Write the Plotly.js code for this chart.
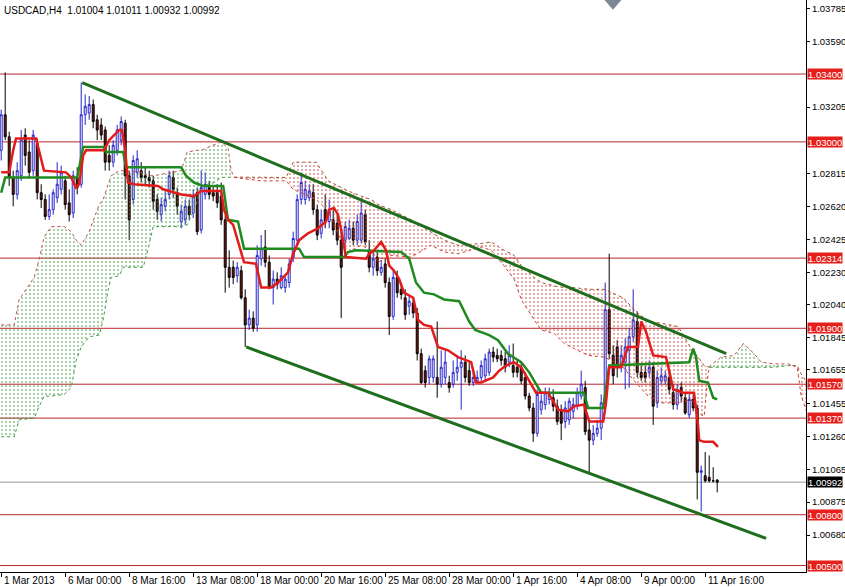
<!DOCTYPE html>
<html><head><meta charset="utf-8">
<script src="https://cdn.plot.ly/plotly-3.0.1.min.js"></script>
<style>html,body{margin:0;padding:0;background:#fff}#chart{width:845px;height:587px}</style>
</head><body><div id="chart"></div>
<script>
// ---------- data ----------
const symbolTitle = "USDCAD,H4\u00a0\u00a01.01004 1.01011 1.00932 1.00992";
const tickBars = [0,16,32,48,64,80,96,112,128,144,160,176];
const tickLabels = ["1 Mar 2013","6 Mar 00:00","8 Mar 16:00","13 Mar 08:00","18 Mar 00:00","20 Mar 16:00","25 Mar 08:00","28 Mar 00:00","1 Apr 16:00","4 Apr 08:00","9 Apr 00:00","11 Apr 16:00"];
const priceTicks = [1.03785,1.03590,1.03205,1.02815,1.02620,1.02425,1.02230,1.02040,1.01845,1.01655,1.01455,1.01260,1.01065,1.00875,1.00680];
const levels = [1.03400,1.03000,1.02314,1.01900,1.01570,1.01370,1.00800,1.00500];
const lastPrice = 1.00992;

const open = [
1.0295,1.0316,1.0303,1.0279,1.0269,1.0280,1.0304,1.0294,1.0283,1.0299,
1.0270,1.0266,1.0256,1.0260,1.0267,1.0272,1.0277,1.0264,1.0258,1.0279,
1.0275,1.0316,1.0317,1.0322,1.0313,1.0310,1.0307,1.0292,1.0288,1.0295,
1.0301,1.0311,1.0280,1.0266,1.0282,1.0283,1.0280,1.0279,1.0277,1.0266,
1.0257,1.0262,1.0269,1.0279,1.0270,1.0253,1.0254,1.0262,1.0258,1.0270,
1.0248,1.0269,1.0273,1.0270,1.0270,1.0268,1.0254,1.0226,1.0226,1.0221,
1.0224,1.0208,1.0192,1.0196,1.0192,1.0231,1.0238,1.0229,1.0214,1.0219,
1.0214,1.0214,1.0217,1.0232,1.0242,1.0266,1.0266,1.0267,1.0270,1.0260,
1.0246,1.0260,1.0253,1.0254,1.0252,1.0242,1.0242,1.0243,1.0249,1.0242,
1.0242,1.0257,1.0236,1.0226,1.0232,1.0223,1.0228,1.0217,1.0197,1.0220,
1.0213,1.0208,1.0203,1.0205,1.0199,1.0175,1.0165,1.0161,1.0161,1.0161,
1.0157,1.0161,1.0158,1.0157,1.0164,1.0167,1.0170,1.0165,1.0158,1.0159,
1.0161,1.0162,1.0164,1.0176,1.0174,1.0174,1.0172,1.0170,1.0168,1.0167,
1.0167,1.0161,1.0150,1.0143,1.0128,1.0142,1.0145,1.0148,1.0149,1.0144,
1.0141,1.0135,1.0136,1.0141,1.0144,1.0150,1.0155,1.0130,1.0124,1.0128,
1.0131,1.0146,1.0201,1.0174,1.0179,1.0167,1.0170,1.0177,1.0185,1.0194,
1.0164,1.0164,1.0164,1.0167,1.0146,1.0159,1.0159,1.0161,1.0152,1.0145,
1.0155,1.0149,1.0139,1.0148,1.0143,1.0105,1.0103,1.0102,1.0100,1.01004];
const high = [
1.0319,1.0341,1.0306,1.0283,1.0288,1.0307,1.0308,1.0301,1.0307,1.0302,
1.0275,1.0269,1.0269,1.0272,1.0288,1.0286,1.0280,1.0272,1.0283,1.0285,
1.0335,1.0328,1.0327,1.0325,1.0316,1.0314,1.0309,1.0298,1.0301,1.0310,
1.0315,1.0313,1.0283,1.0292,1.0295,1.0288,1.0285,1.0283,1.0280,1.0269,
1.0267,1.0272,1.0283,1.0283,1.0273,1.0263,1.0266,1.0266,1.0272,1.0273,
1.0283,1.0282,1.0277,1.0274,1.0275,1.0276,1.0257,1.0236,1.0230,1.0229,
1.0227,1.0213,1.0201,1.0200,1.0239,1.0245,1.0248,1.0233,1.0224,1.0223,
1.0226,1.0221,1.0231,1.0247,1.0269,1.0282,1.0277,1.0275,1.0275,1.0263,
1.0260,1.0269,1.0266,1.0260,1.0257,1.0247,1.0253,1.0254,1.0253,1.0257,
1.0265,1.0260,1.0242,1.0236,1.0236,1.0230,1.0231,1.0220,1.0224,1.0224,
1.0216,1.0213,1.0210,1.0208,1.0202,1.0178,1.0168,1.0174,1.0174,1.0194,
1.0177,1.0177,1.0162,1.0171,1.0174,1.0177,1.0174,1.0170,1.0165,1.0165,
1.0171,1.0175,1.0178,1.0179,1.0178,1.0177,1.0176,1.0180,1.0181,1.0171,
1.0170,1.0164,1.0152,1.0146,1.0154,1.0151,1.0155,1.0155,1.0154,1.0148,
1.0145,1.0147,1.0149,1.0149,1.0155,1.0165,1.0159,1.0136,1.0133,1.0136,
1.0151,1.0217,1.0234,1.0180,1.0183,1.0180,1.0184,1.0190,1.0213,1.0200,
1.0168,1.0168,1.0171,1.0170,1.0165,1.0167,1.0165,1.0165,1.0157,1.0157,
1.0158,1.0152,1.0151,1.0151,1.0145,1.0109,1.0117,1.0115,1.0108,1.01011];
const low = [
1.0289,1.0301,1.0274,1.0262,1.0266,1.0277,1.0286,1.0279,1.0280,1.0266,
1.0261,1.0254,1.0254,1.0257,1.0264,1.0269,1.0260,1.0253,1.0255,1.0269,
1.0273,1.0310,1.0313,1.0308,1.0301,1.0301,1.0283,1.0283,1.0285,1.0292,
1.0298,1.0266,1.0242,1.0263,1.0279,1.0276,1.0275,1.0273,1.0260,1.0254,
1.0253,1.0259,1.0266,1.0267,1.0257,1.0249,1.0251,1.0254,1.0255,1.0245,
1.0246,1.0266,1.0266,1.0265,1.0261,1.0251,1.0211,1.0214,1.0216,1.0217,
1.0207,1.0179,1.0189,1.0188,1.0188,1.0227,1.0226,1.0213,1.0204,1.0213,
1.0213,1.0211,1.0214,1.0229,1.0239,1.0263,1.0263,1.0265,1.0257,1.0242,
1.0243,1.0249,1.0249,1.0245,1.0239,1.0196,1.0239,1.0242,1.0239,1.0239,
1.0240,1.0239,1.0223,1.0221,1.0221,1.0221,1.0214,1.0186,1.0195,1.0208,
1.0207,1.0195,1.0198,1.0196,1.0171,1.0157,1.0155,1.0157,1.0158,1.0149,
1.0155,1.0157,1.0152,1.0155,1.0159,1.0142,1.0158,1.0156,1.0156,1.0158,
1.0159,1.0159,1.0162,1.0170,1.0170,1.0168,1.0164,1.0167,1.0161,1.0161,
1.0157,1.0148,1.0141,1.0123,1.0126,1.0139,1.0142,1.0145,1.0141,1.0133,
1.0124,1.0131,1.0133,1.0137,1.0142,1.0148,1.0127,1.0105,1.0121,1.0126,
1.0124,1.0143,1.0172,1.0157,1.0161,1.0164,1.0154,1.0155,1.0182,1.0161,
1.0159,1.0158,1.0161,1.0133,1.0143,1.0157,1.0157,1.0151,1.0142,1.0142,
1.0147,1.0139,1.0137,1.0141,1.0089,1.0082,1.0099,1.0099,1.0099,1.00932];
const close = [
1.0316,1.0303,1.0279,1.0269,1.0283,1.0301,1.0292,1.0282,1.0304,1.0270,
1.0266,1.0256,1.0260,1.0270,1.0275,1.0282,1.0263,1.0257,1.0280,1.0273,
1.0316,1.0321,1.0322,1.0312,1.0307,1.0304,1.0288,1.0288,1.0298,1.0307,
1.0312,1.0280,1.0254,1.0289,1.0290,1.0279,1.0279,1.0277,1.0265,1.0259,
1.0263,1.0266,1.0280,1.0272,1.0262,1.0259,1.0262,1.0257,1.0268,1.0247,
1.0273,1.0275,1.0269,1.0268,1.0264,1.0254,1.0226,1.0220,1.0220,1.0226,
1.0208,1.0192,1.0196,1.0190,1.0233,1.0237,1.0229,1.0214,1.0219,1.0216,
1.0221,1.0219,1.0228,1.0243,1.0266,1.0276,1.0272,1.0271,1.0260,1.0245,
1.0254,1.0253,1.0259,1.0248,1.0242,1.0226,1.0250,1.0249,1.0242,1.0253,
1.0258,1.0241,1.0226,1.0231,1.0224,1.0226,1.0217,1.0197,1.0220,1.0211,
1.0210,1.0198,1.0206,1.0199,1.0175,1.0158,1.0158,1.0172,1.0172,1.0157,
1.0167,1.0170,1.0155,1.0164,1.0167,1.0170,1.0161,1.0158,1.0161,1.0161,
1.0168,1.0172,1.0176,1.0173,1.0172,1.0171,1.0167,1.0174,1.0164,1.0164,
1.0159,1.0150,1.0143,1.0128,1.0151,1.0147,1.0152,1.0151,1.0144,1.0135,
1.0134,1.0143,1.0147,1.0145,1.0152,1.0157,1.0129,1.0124,1.0128,1.0131,
1.0146,1.0201,1.0175,1.0162,1.0167,1.0174,1.0179,1.0185,1.0195,1.0164,
1.0161,1.0161,1.0167,1.0144,1.0161,1.0162,1.0162,1.0154,1.0145,1.0154,
1.0150,1.0140,1.0148,1.0143,1.0105,1.0106,1.0100,1.0100,1.0100,1.00992];

// Tenkan-sen (red) breakpoints: bar index / price
const tenkanX = [0,2,3,3.7,8.7,10,10.7,16.2,17.5,18.7,19.5,20.5,21.2,25.7,27,29.5,30.2,31,31.7,33.2,39.2,40.5,45,48.2,50,55,55.7,56.7,58,60.7,63.7,65,67.5,69.2,71.7,73,74.5,76.7,79.2,81.2,82,83.2,84.2,85,86.2,91.2,92,93.2,95,96.2,97,98.2,99.5,100.7,103,104.2,105.7,107.5,109.2,111.7,114.2,117.5,118.7,120,123,124.5,126.2,128.2,130,132,133.7,136.7,139.2,141.7,143.2,145.7,147,150.5,151.2,152,155,156.7,159.2,160,161.2,163,166.2,167,168,170.5,172,173.2,174.2,174.5,175.7,178,179.2];
const tenkanY = [1.0282,1.0282,1.0295,1.0302,1.0302,1.0289,1.0283,1.0282,1.0279,1.0273,1.0275,1.0292,1.0295,1.0295,1.0301,1.0307,1.0307,1.0295,1.0276,1.0275,1.0274,1.0272,1.0269,1.0268,1.0271,1.0271,1.0260,1.0254,1.0251,1.0229,1.0228,1.0214,1.0214,1.0217,1.0223,1.0234,1.0242,1.0246,1.0249,1.0253,1.0260,1.0261,1.0257,1.0248,1.0232,1.0231,1.0234,1.0236,1.0241,1.0236,1.0227,1.0224,1.0219,1.0211,1.0208,1.0195,1.0192,1.0191,1.0179,1.0177,1.0173,1.0170,1.0158,1.0158,1.0161,1.0165,1.0168,1.0170,1.0167,1.0159,1.0152,1.0152,1.0142,1.0141,1.0144,1.0145,1.0135,1.0135,1.0146,1.0167,1.0167,1.0179,1.0179,1.0194,1.0188,1.0174,1.0173,1.0165,1.0154,1.0152,1.0152,1.0152,1.0133,1.0124,1.0123,1.0123,1.0120];

// Kijun-sen (green) breakpoints
const kijunX = [0,1,19,20.5,25.7,26.2,30.5,31.2,45,46.2,48.2,50.5,55.5,56.7,59.2,60.7,74.5,75.7,85.7,86.7,88.7,100,102,103.7,105.7,108.2,110.7,114.5,117,118.5,122,124.2,126.7,130,132,133.2,135,145.7,146.7,150.5,151.2,152,172,173,173.7,174.5,176.7,178,179];
const kijunY = [1.0270,1.0279,1.0279,1.0297,1.0297,1.0294,1.0294,1.0285,1.0285,1.0280,1.0276,1.0274,1.0274,1.0254,1.0253,1.0237,1.0237,1.0232,1.0232,1.0235,1.0236,1.0235,1.0231,1.0217,1.0211,1.0210,1.0207,1.0206,1.0194,1.0189,1.0186,1.0183,1.0175,1.0170,1.0164,1.0159,1.0152,1.0152,1.0143,1.0143,1.0155,1.0168,1.0170,1.0178,1.0173,1.0159,1.0158,1.0149,1.0148];

// Ichimoku cloud (Senkou span A / B), shifted 26 bars ahead
const cloudX = [0,3.25,4.5,8.25,9.5,10.75,12.5,15.75,17.5,18.75,20,22,24.5,25.5,26.75,27.5,29.5,30.5,35.5,36.75,38,45,46.5,48.75,50,53.25,55,56.75,57.5,58.25,65,71.25,73,78.75,81.75,85,86.75,90,92.5,94.25,97.5,102.5,107.5,110.75,114.25,120,122.5,125,128.25,130,133.25,135,138.25,140.75,143.25,146.75,150.75,152.5,155.5,158.25,161.75,165,169.25,172.5,174.25,175.75,176.75,177.25,180,183.25,185.5,188.25,190,193.25,196.75,199,200,201.5];
const spanA = [1.0192,1.0192,1.0207,1.0220,1.0231,1.0244,1.0250,1.0250,1.0247,1.0242,1.0239,1.0247,1.0263,1.0266,1.0275,1.0280,1.0283,1.0283,1.0282,1.0280,1.0280,1.0283,1.0294,1.0295,1.0295,1.0298,1.0300,1.0296,1.0283,1.0279,1.0277,1.0277,1.0272,1.0266,1.0259,1.0242,1.0235,1.0239,1.0236,1.0229,1.0233,1.0232,1.0239,1.0235,1.0234,1.0238,1.0236,1.0229,1.0219,1.0207,1.0195,1.0189,1.0187,1.0181,1.0178,1.0174,1.0173,1.0171,1.0167,1.0159,1.0150,1.0146,1.0146,1.0148,1.0140,1.0138,1.0164,1.0168,1.0173,1.0174,1.0181,1.0175,1.0170,1.0169,1.0169,1.0167,1.0150,1.0140];
const spanB = [1.0126,1.0126,1.0136,1.0137,1.0144,1.0150,1.0150,1.0151,1.0155,1.0171,1.0179,1.0185,1.0186,1.0195,1.0213,1.0220,1.0221,1.0226,1.0226,1.0237,1.0250,1.0250,1.0251,1.0263,1.0274,1.0276,1.0279,1.0279,1.0279,1.02792,1.0279,1.0279,1.0288,1.0288,1.0277,1.0273,1.0271,1.0268,1.0266,1.0263,1.0260,1.0254,1.0247,1.0242,1.0239,1.0240,1.0241,1.0237,1.0233,1.0227,1.0220,1.0217,1.0215,1.0214,1.0214,1.0213,1.0213,1.0211,1.0208,1.0201,1.0194,1.0193,1.0191,1.0178,1.0173,1.0168,1.0167,1.0167,1.0167,1.0167,1.0167,1.0167,1.0167,1.0167,1.0168,1.0168,1.0163,1.0158];

// Trend channel lines (two anchor points each)
const upperTrendX = [20.25,181.25], upperTrendY = [1.0335,1.0175];
const lowerTrendX = [61.25,191.25], lowerTrendY = [1.0179,1.0066];

// ---------- drawing ----------
const FONT = 'Liberation Sans, Arial, sans-serif';
const FS = 9.5;
const bars = open.map((_, i) => i);
const traces = [];

// cloud split into bullish / bearish runs
(function(){
  const runs = []; let cur = null;
  for (let i = 0; i < cloudX.length; i++) {
    const d = spanA[i] - spanB[i];
    const s = d >= 0 ? 1 : -1;
    if (!cur) { cur = {s, x:[cloudX[i]], a:[spanA[i]], b:[spanB[i]]}; continue; }
    if (s !== cur.s) {
      const d0 = spanA[i-1] - spanB[i-1];
      const t = d0 / (d0 - d);
      const xc = cloudX[i-1] + t * (cloudX[i] - cloudX[i-1]);
      const yc = spanA[i-1] + t * (spanA[i] - spanA[i-1]);
      cur.x.push(xc); cur.a.push(yc); cur.b.push(yc); runs.push(cur);
      cur = {s, x:[xc, cloudX[i]], a:[yc, spanA[i]], b:[yc, spanB[i]]};
    } else { cur.x.push(cloudX[i]); cur.a.push(spanA[i]); cur.b.push(spanB[i]); }
  }
  runs.push(cur);
  runs.forEach(r => {
    const bull = r.s > 0;
    traces.push({type:'scatter', mode:'lines', x:r.x, y:r.b, hoverinfo:'skip', showlegend:false,
      line:{color: bull ? '#3c9a3c' : '#a0522d', width:1, dash:'dot'}});
    traces.push({type:'scatter', mode:'lines', x:r.x, y:r.a, hoverinfo:'skip', showlegend:false,
      line:{color: bull ? '#c0504d' : '#cc3a30', width:1, dash:'dot'},
      fill:'tonexty', fillcolor:'rgba(0,0,0,0)',
      fillpattern:{shape:'.', size:4, solidity:0.12,
        fgcolor: bull ? '#2f8f2f' : '#c23a28', fgopacity:1, bgcolor:'rgba(0,0,0,0)'}});
  });
})();

traces.push({type:'candlestick', x:bars, open, high, low, close, hoverinfo:'skip', showlegend:false,
  whiskerwidth:0,
  increasing:{line:{color:'#2222cc', width:1}, fillcolor:'#ffffff'},
  decreasing:{line:{color:'#000000', width:1}, fillcolor:'#7a1414'}});

traces.push({type:'scatter', mode:'lines', x:kijunX, y:kijunY, hoverinfo:'skip', showlegend:false,
  line:{color:'#1f8a1f', width:2.5}});
traces.push({type:'scatter', mode:'lines', x:tenkanX, y:tenkanY, hoverinfo:'skip', showlegend:false,
  line:{color:'#e41b1b', width:2.5}});
traces.push({type:'scatter', mode:'lines', x:upperTrendX, y:upperTrendY, hoverinfo:'skip', showlegend:false,
  line:{color:'#1e6e1e', width:3}});
traces.push({type:'scatter', mode:'lines', x:lowerTrendX, y:lowerTrendY, hoverinfo:'skip', showlegend:false,
  line:{color:'#1e6e1e', width:3}});

const shapes = levels.map(v => ({type:'line', xref:'paper', x0:0, x1:1, yref:'y', y0:v, y1:v,
  line:{color:'#b8262a', width:1}, layer:'below'}));
shapes.push({type:'line', xref:'paper', x0:0, x1:1, yref:'y', y0:lastPrice, y1:lastPrice,
  line:{color:'#9a9a9a', width:1}, layer:'below'});
// grey marker at top of chart
shapes.push({type:'path', xref:'paper', yref:'paper',
  path:'M 0.750,1.0 L 0.7605,0.983 L 0.771,1.0 Z', fillcolor:'#7d8794', line:{width:0}});

const annotations = levels.map(v => ({xref:'paper', x:1, xanchor:'left', xshift:1, yref:'y', y:v,
  text:v.toFixed(5), showarrow:false, bgcolor:'#e5201c', borderpad:0, height:10,
  font:{family:FONT, size:FS, color:'#ffffff'}}));
annotations.push({xref:'paper', x:1, xanchor:'left', xshift:1, yref:'y', y:lastPrice,
  text:lastPrice.toFixed(5), showarrow:false, bgcolor:'#000000', borderpad:0, height:10,
  font:{family:FONT, size:FS, color:'#ffffff'}});
annotations.push({xref:'paper', x:0, xanchor:'left', xshift:2, yref:'paper', y:1, yanchor:'top', yshift:-3,
  text:symbolTitle, showarrow:false, font:{family:FONT, size:10, color:'#000000'}});
// time-axis labels, left-aligned at their tick as in the terminal
tickBars.forEach((b, k) => annotations.push({xref:'x', x:b, xanchor:'left', xshift:1,
  yref:'paper', y:0, yanchor:'top', yshift:-1, text:tickLabels[k], showarrow:false,
  font:{family:FONT, size:10, color:'#000000'}}));

const layout = {
  width:845, height:587, margin:{l:0, r:39, t:0, b:15},
  paper_bgcolor:'#ffffff', plot_bgcolor:'#ffffff', showlegend:false, hovermode:false,
  xaxis:{range:[-0.3,201.2], rangeslider:{visible:false}, showgrid:false, zeroline:false,
    showline:true, linecolor:'#000000', linewidth:1, ticks:'outside', ticklen:4, tickcolor:'#000000',
    tickvals:tickBars, showticklabels:false, fixedrange:true},
  yaxis:{side:'right', range:[1.00462,1.03837], showgrid:false, zeroline:false,
    showline:true, linecolor:'#000000', linewidth:1, ticks:'outside', ticklen:3, tickcolor:'#000000',
    tickvals:priceTicks, ticktext:priceTicks.map(v => v.toFixed(5)),
    tickfont:{family:FONT, size:FS, color:'#000000'}, fixedrange:true},
  shapes, annotations
};

Plotly.newPlot('chart', traces, layout, {staticPlot:true, displayModeBar:false});
</script>
</body></html>
